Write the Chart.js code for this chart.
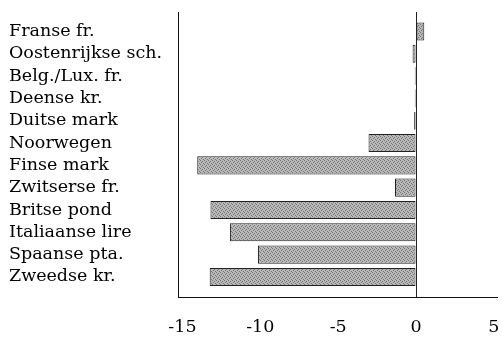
<!DOCTYPE html>
<html>
<head>
<meta charset="utf-8">
<script src="https://cdn.jsdelivr.net/npm/chart.js@4/dist/chart.umd.min.js"></script>
<style>
html,body{margin:0;padding:0;background:#fff;overflow:hidden;}
#wrap{width:502px;height:340px;position:relative;}
canvas{display:block;}
</style>
</head>
<body>
<div id="wrap"><canvas id="c" width="502" height="340"></canvas></div>
<script>
const categories = ["Franse fr.","Oostenrijkse sch.","Belg./Lux. fr.","Deense kr.","Duitse mark","Noorwegen","Finse mark","Zwitserse fr.","Britse pond","Italiaanse lire","Spaanse pta.","Zweedse kr."];
const values = [0.53, -0.22, -0.08, -0.08, -0.12, -3.05, -14.05, -1.35, -13.2, -11.95, -10.15, -13.25];
const xTicks = [-15, -10, -5, 0, 5];

function makePattern(){
  const p = document.createElement('canvas');
  p.width = 4; p.height = 4;
  const g = p.getContext('2d');
  g.fillStyle = '#b9b9b9';
  g.fillRect(0,0,4,4);
  g.fillStyle = '#747474';
  const dots = [[0,0],[2,1],[1,2],[3,3]];
  dots.forEach(d=>g.fillRect(d[0],d[1],1,1));
  return g.createPattern(p,'repeat');
}

const FONT = {family: "'DejaVu Serif', serif", size: 17.5};

new Chart(document.getElementById('c'), {
  type: 'bar',
  data: {
    datasets: [{
      data: values.map((v, i) => ({x: v, y: i})),
      backgroundColor: makePattern(),
      borderColor: '#222',
      borderWidth: 1,
      borderSkipped: false,
      barPercentage: 0.81,
      categoryPercentage: 1.0
    }]
  },
  options: {
    indexAxis: 'y',
    responsive: false,
    animation: false,
    layout: {autoPadding: false, padding: {left: 9, top: 12, right: 5, bottom: 0}},
    plugins: {legend: {display: false}, tooltip: {enabled: false}},
    scales: {
      x: {
        type: 'linear',
        offset: false,
        min: -15.24,
        max: 5.2,
        afterBuildTicks: (s) => { s.ticks = xTicks.map(v => ({value: v})); },
        afterFit: (s) => { s.height = 42.3; s.paddingLeft = 0; s.paddingRight = 0; },
        ticks: {font: FONT, color: '#000', padding: 19, autoSkip: false, maxRotation: 0,
                callback: (v) => String(v)},
        grid: {
          drawTicks: false,
          color: (ctx) => (ctx.tick && ctx.tick.value === 0) ? '#222' : 'rgba(0,0,0,0)',
          lineWidth: 1
        },
        border: {display: true, color: '#111', width: 1}
      },
      y: {
        type: 'linear',
        offset: false,
        reverse: true,
        min: -0.87,
        max: 11.93,
        afterBuildTicks: (s) => { s.ticks = categories.map((c, i) => ({value: i})); },
        afterFit: (s) => { s.width = 169.7; s.paddingTop = 0; s.paddingBottom = 0; },
        ticks: {font: FONT, color: '#000', crossAlign: 'far', padding: 0, autoSkip: false,
                callback: (v) => categories[v]},
        grid: {display: false, drawTicks: false, offset: false},
        border: {display: true, color: '#111', width: 1}
      }
    }
  }
});
</script>
</body>
</html>
